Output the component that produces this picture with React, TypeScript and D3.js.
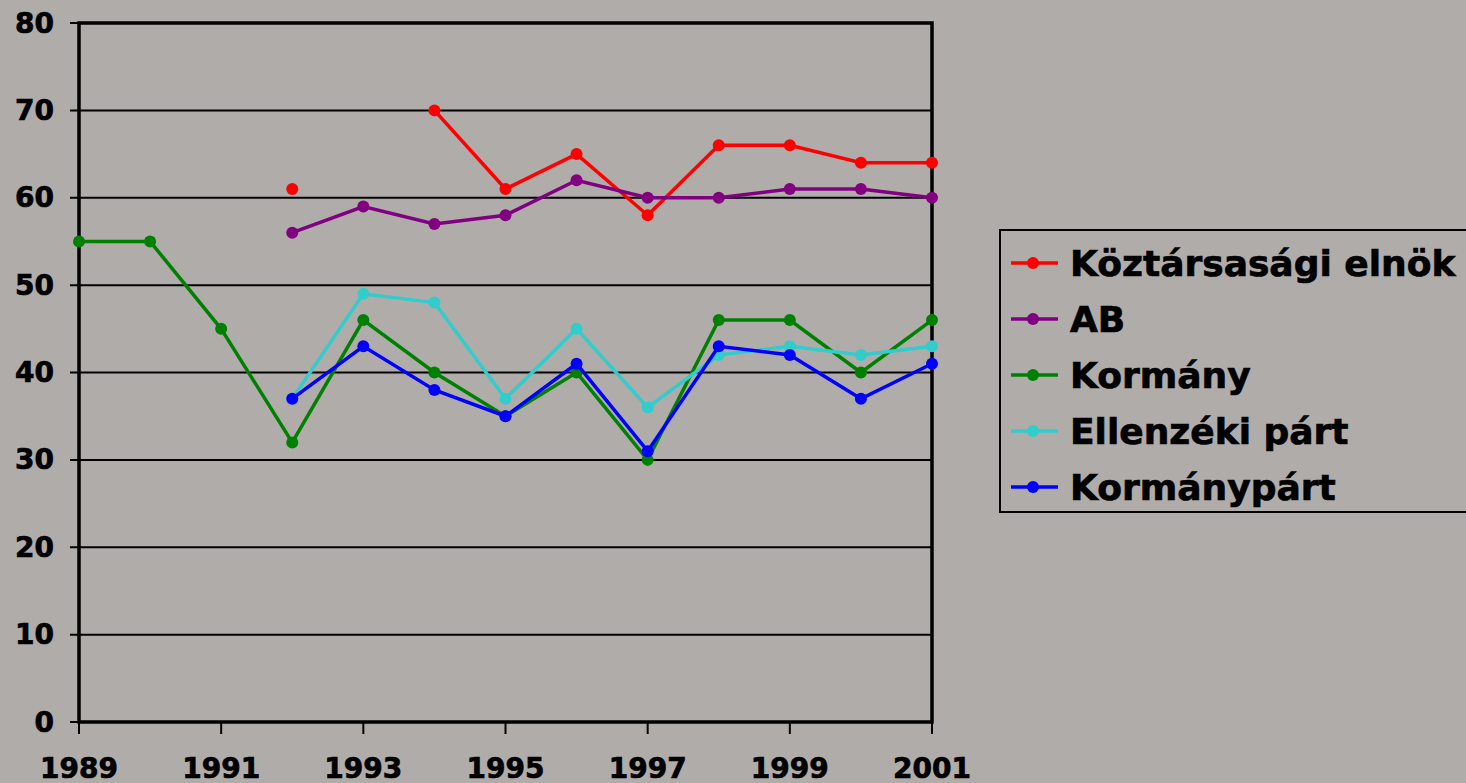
import React from 'react';
import * as d3 from 'd3';

const years = d3.range(1989, 2002);
const tickYears = [1989, 1991, 1993, 1995, 1997, 1999, 2001];
const yTicks = [0, 10, 20, 30, 40, 50, 60, 70, 80];

// null = no data for that year
const elnok = [null, null, null, 61, null, 70, 61, 65, 58, 66, 66, 64, 64];
const ab = [null, null, null, 56, 59, 57, 58, 62, 60, 60, 61, 61, 60];
const kormany = [55, 55, 45, 32, 46, 40, 35, 40, 30, 46, 46, 40, 46];
const ellenzeki = [null, null, null, 37, 49, 48, 37, 45, 36, 42, 43, 42, 43];
const kormanypart = [null, null, null, 37, 43, 38, 35, 41, 31, 43, 42, 37, 41];

const seriesNames = ['Köztársasági elnök', 'AB', 'Kormány', 'Ellenzéki párt', 'Kormánypárt'];
const seriesColors = ['#ff0000', '#800080', '#008000', '#33cccc', '#0000ff'];
const seriesValues = [elnok, ab, kormany, ellenzeki, kormanypart];

const W = 1466;
const H = 783;
const FONT = '"DejaVu Sans", Verdana, sans-serif';

export default function App() {
  const x = d3.scaleLinear().domain([1989, 2001]).range([79, 932]);
  const y = d3.scaleLinear().domain([0, 80]).range([722, 23]);

  const line = d3
    .line<number | null>()
    .defined(d => d != null)
    .x((d, i) => x(years[i]))
    .y(d => y(d as number));

  const legendX = 1000;
  const legendY = 230;

  // bold text, a little heavier like the original
  const txt = {
    fontFamily: FONT,
    fontWeight: 'bold' as const,
    fill: '#000',
    stroke: '#000',
    strokeWidth: 0.7
  };

  return (
    <svg
      width={W}
      height={H}
      style={{ position: 'fixed', left: 0, top: 0, background: '#b0acaa' }}
    >
      {/* gridlines */}
      {yTicks.map(t => (
        <line key={'g' + t} x1={70} x2={932} y1={y(t)} y2={y(t)} stroke="#000" strokeWidth={2} />
      ))}
      {/* y labels */}
      {yTicks.map(t => (
        <text key={'yl' + t} x={54} y={y(t)} textAnchor="end" dominantBaseline="central" fontSize={28} {...txt}>
          {t}
        </text>
      ))}
      {/* x ticks and labels */}
      {tickYears.map(t => (
        <g key={'x' + t}>
          <line x1={x(t)} x2={x(t)} y1={722} y2={734} stroke="#000" strokeWidth={2} />
          <text x={x(t)} y={778} textAnchor="middle" fontSize={28} {...txt}>
            {t}
          </text>
        </g>
      ))}
      {/* plot frame */}
      <rect x={79} y={23} width={853} height={699} fill="none" stroke="#000" strokeWidth={3.5} />

      {/* series */}
      {seriesValues.map((vals, si) => (
        <g key={'s' + si}>
          <path d={line(vals) || ''} fill="none" stroke={seriesColors[si]} strokeWidth={3.5} />
          {vals.map((v, i) =>
            v == null ? null : (
              <circle key={i} cx={x(years[i])} cy={y(v)} r={6} fill={seriesColors[si]} />
            )
          )}
        </g>
      ))}

      {/* legend */}
      <rect x={legendX} y={legendY} width={480} height={282} fill="none" stroke="#000" strokeWidth={2} />
      {seriesNames.map((name, i) => {
        const cy = legendY + 33 + i * 56;
        return (
          <g key={'l' + i}>
            <line x1={1011} x2={1058} y1={cy} y2={cy} stroke={seriesColors[i]} strokeWidth={3.5} />
            <circle cx={1033} cy={cy} r={6} fill={seriesColors[i]} />
            <text x={1070} y={cy} dominantBaseline="central" fontSize={36} {...txt}>
              {name}
            </text>
          </g>
        );
      })}
    </svg>
  );
}
